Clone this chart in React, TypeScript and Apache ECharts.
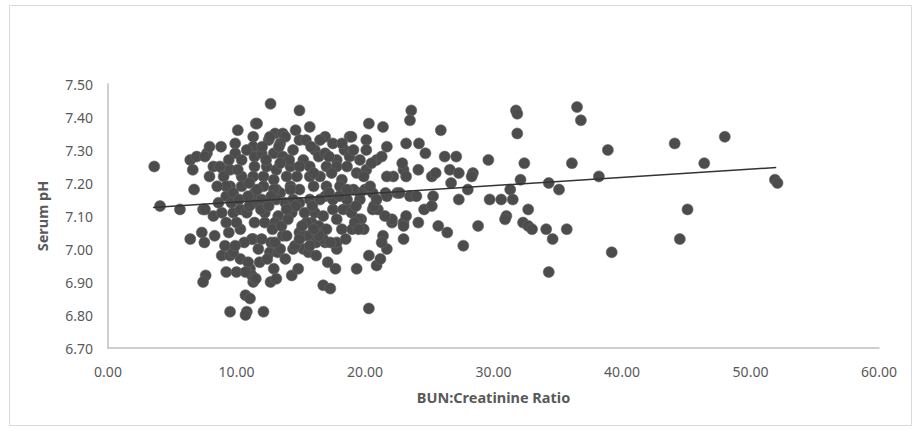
import React, { useEffect, useRef } from "react";
import * as echarts from "echarts";

const bunRatio: number[] = [
  3.6, 4.05, 5.6, 6.7, 6.4, 6.6, 6.9, 7.7, 7.9, 8.8, 9.9, 9.9, 10.1, 10.4, 11.5, 7.4, 8.2, 9.2, 9.5, 8.2, 9.0,
  6.4, 7.3, 7.5, 8.3, 7.6, 7.4, 9.2, 10.0, 10.7, 9.5, 10.8, 10.7, 11.3, 8.85, 9.5, 10.3, 11.05, 9.4, 10.3, 11.3,
  12.1, 12.65, 12.9, 14.3, 14.8, 16.75, 17.3, 17.7, 19.35, 20.3, 20.9, 21.2, 21.7, 21.4, 21.3, 22.1, 20.3, 11.05,
  11.8, 11.2, 11.5, 14.4, 15.2, 15.6, 16.2, 17.1, 17.8, 17.8, 16.9, 13.6, 12.6, 13.2, 15.2, 18.2, 19.0, 19.4, 19.7,
  15.6, 16.2,
  12.65, 14.9, 11.6, 15.7, 20.3, 21.4, 20.1, 21.7, 18.8, 16.9, 13.0, 13.6, 12.5, 14.9, 11.3, 22.2, 23.0, 19.6,
  20.1, 20.9, 20.0, 20.6, 21.6, 22.5, 19.6, 20.6, 21.0, 22.1, 23.0, 18.8, 19.5,
  23.6, 23.5, 25.9, 31.75, 31.85, 31.85, 36.5, 36.8, 23.2, 24.2, 24.7, 26.2, 27.1, 29.6, 32.4, 36.1, 22.9, 23.2,
  24.15, 25.2, 25.5, 26.6, 27.3, 28.4, 28.3, 26.7, 32.1, 34.3, 35.1, 38.2, 28.0, 31.3, 22.7, 23.5, 24.0, 25.3,
  27.3, 29.7, 30.6, 31.5, 24.6, 25.2, 32.7, 31.0, 23.2, 24.15, 25.7, 28.8, 32.3, 32.7, 34.1, 35.7,
  23.0, 23.0, 26.4, 27.65, 30.9, 33.0, 34.6, 34.3,
  38.9, 39.2, 44.1, 44.5, 45.1, 46.4, 48.0, 51.9, 52.1,
  11.3, 12.6, 13.8, 13.4, 15.4, 16.1, 17.5, 18.95, 18.4, 20.1, 7.55, 8.7, 9.5, 10.4, 11.4, 11.96, 12.9, 13.6,
  14.4, 15.2, 15.7, 16.4, 16.9, 17.8, 18.8, 21.3, 20.5, 11.4, 12.35, 13.1, 14.2, 14.9, 17.0, 17.8, 18.6, 19.35,
  7.9, 9.0, 11.3, 12.1, 12.9, 13.9, 14.7, 15.7, 16.5, 17.4, 18.2, 19.9, 21.7, 9.2, 10.4, 12.1, 13.1, 14.2, 14.9,
  16.0, 17.0, 18.05, 19.1, 20.4, 9.75, 11.4, 13.4,
  7.55, 8.85, 9.75, 10.3, 10.8, 11.4, 11.96, 13.1, 13.8, 14.4, 14.3, 13.25, 12.2, 11.4, 12.2, 13.0, 9.2, 10.0,
  9.1, 9.75, 10.9, 10.7, 11.2, 11.96, 12.7, 13.4, 13.9, 14.55, 15.7, 16.75, 17.3, 14.9, 15.85, 16.4, 17.0, 15.45,
  16.1, 16.75, 17.5, 18.3, 18.95, 19.2, 19.9, 19.5, 20.7, 21.55, 14.9, 15.7, 16.9, 17.5, 18.6, 19.6, 20.9, 21.7,
  11.6, 12.9, 14.2, 13.1,
  9.6, 10.2, 10.9, 11.9, 12.5, 12.8, 13.5, 14.0, 14.6, 15.3, 15.9, 16.5, 17.2, 18.0, 18.6, 17.8, 16.4, 15.1,
  13.9, 12.7, 11.0, 10.1, 10.8, 12.3, 13.3, 14.1, 15.8, 17.2, 18.2, 19.1, 9.4, 8.5, 8.6, 10.6, 11.7, 13.0, 14.9,
  16.0, 18.5, 19.3, 12.0, 14.6, 16.5, 13.4, 16.0, 11.0, 9.9, 12.4, 13.8,
];

const serumPh: number[] = [
  7.25, 7.13, 7.12, 7.18, 7.27, 7.24, 7.28, 7.29, 7.31, 7.31, 7.32, 7.29, 7.36, 7.27, 7.38, 7.12, 7.10, 7.16, 7.19, 7.25, 7.24,
  7.03, 7.05, 7.02, 7.04, 6.92, 6.90, 6.93, 6.93, 6.86, 6.81, 6.81, 6.80, 6.90, 6.98, 6.98, 6.97, 6.94, 7.05, 7.06, 7.03,
  6.81, 6.90, 6.94, 6.92, 6.94, 6.89, 6.88, 6.94, 6.94, 6.98, 6.95, 6.97, 7.00, 7.04, 7.02, 7.08, 6.82, 6.85,
  6.96, 6.92, 6.91, 7.00, 7.00, 6.99, 6.98, 6.96, 7.00, 7.02, 7.02, 7.04, 6.99, 6.99, 7.04, 7.06, 7.06, 7.08, 7.09,
  7.04, 7.02,
  7.44, 7.42, 7.38, 7.37, 7.38, 7.37, 7.33, 7.31, 7.34, 7.34, 7.35, 7.35, 7.33, 7.33, 7.34, 7.22, 7.24, 7.27,
  7.24, 7.27, 7.18, 7.17, 7.17, 7.17, 7.17, 7.12, 7.12, 7.09, 7.08, 7.12, 7.09,
  7.42, 7.39, 7.36, 7.42, 7.41, 7.35, 7.43, 7.39, 7.32, 7.32, 7.29, 7.28, 7.28, 7.27, 7.26, 7.26, 7.26, 7.22,
  7.24, 7.22, 7.23, 7.24, 7.23, 7.23, 7.22, 7.20, 7.21, 7.20, 7.18, 7.22, 7.18, 7.18, 7.17, 7.16, 7.16, 7.16,
  7.15, 7.15, 7.15, 7.15, 7.12, 7.13, 7.12, 7.10, 7.10, 7.08, 7.07, 7.07, 7.08, 7.07, 7.06, 7.06,
  7.07, 7.03, 7.05, 7.01, 7.09, 7.06, 7.03, 6.93,
  7.30, 6.99, 7.32, 7.03, 7.12, 7.26, 7.34, 7.21, 7.20,
  7.31, 7.34, 7.34, 7.32, 7.33, 7.30, 7.32, 7.34, 7.30, 7.30, 7.28, 7.25, 7.24, 7.22, 7.28, 7.29, 7.29, 7.28,
  7.30, 7.27, 7.25, 7.28, 7.29, 7.27, 7.28, 7.28, 7.26, 7.25, 7.25, 7.24, 7.25, 7.25, 7.25, 7.25, 7.25, 7.23,
  7.22, 7.22, 7.22, 7.22, 7.21, 7.22, 7.22, 7.22, 7.22, 7.23, 7.21, 7.22, 7.22, 7.19, 7.19, 7.19, 7.18, 7.19, 7.18,
  7.19, 7.19, 7.19, 7.18, 7.19, 7.17, 7.17, 7.17,
  7.12, 7.11, 7.11, 7.12, 7.11, 7.14, 7.15, 7.15, 7.14, 7.15, 7.11, 7.10, 7.11, 7.08, 7.08, 7.08, 7.08, 7.08,
  7.01, 6.99, 6.96, 6.93, 7.03, 7.03, 7.02, 7.00, 7.04, 7.01, 7.01, 7.03, 7.02, 7.05, 7.08, 7.07, 7.06, 7.08,
  7.11, 7.10, 7.12, 7.12, 7.11, 7.08, 7.06, 7.06, 7.13, 7.10, 7.14, 7.15, 7.16, 7.15, 7.15, 7.15, 7.15, 7.16,
  7.18, 7.18, 7.18, 6.91,
  7.14, 7.15, 7.16, 7.12, 7.13, 7.06, 7.07, 7.09, 7.13, 7.11, 7.13, 7.15, 7.17, 7.16, 7.18, 7.09, 7.04, 7.07,
  7.12, 7.16, 7.20, 7.24, 7.30, 7.27, 7.31, 7.27, 7.31, 7.28, 7.32, 7.30, 7.27, 7.19, 7.14, 7.02, 7.00, 7.02, 7.03,
  7.06, 7.03, 7.13, 7.31, 7.36, 7.33, 7.26, 7.23, 7.13, 7.01, 6.97, 6.97,
];

const trendX: number[] = [3.5, 52];
const trendY: number[] = [7.126, 7.247];

const xTicks = { min: 0, max: 60, interval: 10 };
const yTicks = { min: 6.7, max: 7.5, interval: 0.1 };

export default function App() {
  const ref = useRef<HTMLDivElement>(null);
  useEffect(() => {
    document.body.style.margin = "0";
    if (!ref.current) return;
    const chart = echarts.init(ref.current, undefined, { renderer: "svg" });
    const n = Math.min(bunRatio.length, serumPh.length);
    const points: number[][] = [];
    for (let i = 0; i < n; i++) points.push([bunRatio[i], serumPh[i]]);
    const font = "'Noto Sans', 'Open Sans', sans-serif";
    chart.setOption({
      animation: false,
      backgroundColor: "#ffffff",
      textStyle: { fontFamily: font },
      graphic: [
        {
          type: "rect",
          shape: { x: 9.5, y: 5.5, width: 902, height: 420 },
          style: { fill: "none", stroke: "#d9d9d9", lineWidth: 1 },
          silent: true,
        },
      ],
      grid: { left: 108, right: 41, top: 84, bottom: 82 },
      xAxis: {
        type: "value",
        min: xTicks.min,
        max: xTicks.max,
        interval: xTicks.interval,
        name: "BUN:Creatinine Ratio",
        nameLocation: "middle",
        nameGap: 41,
        nameTextStyle: { color: "#595959", fontSize: 14.5, fontWeight: "bold", fontFamily: font },
        axisLine: { show: true, lineStyle: { color: "#bfbfbf", width: 1.5 } },
        axisTick: { show: false },
        splitLine: { show: false },
        axisLabel: {
          color: "#595959",
          fontSize: 14,
          margin: 16,
          formatter: (v: number) => v.toFixed(2),
        },
      },
      yAxis: {
        type: "value",
        min: yTicks.min,
        max: yTicks.max,
        interval: yTicks.interval,
        name: "Serum pH",
        nameLocation: "middle",
        nameGap: 59,
        nameTextStyle: { color: "#595959", fontSize: 14.5, fontWeight: "bold", fontFamily: font },
        axisLine: { show: true, lineStyle: { color: "#bfbfbf", width: 1.5 } },
        axisTick: { show: false },
        splitLine: { show: false },
        axisLabel: {
          color: "#595959",
          fontSize: 14,
          margin: 15,
          formatter: (v: number) => v.toFixed(2),
        },
      },
      series: [
        {
          type: "scatter",
          data: points,
          symbol: "circle",
          symbolSize: 11,
          itemStyle: { color: "#4c4c4c", borderColor: "#666666", borderWidth: 0.6, opacity: 1 },
          silent: true,
          z: 2,
        },
        {
          type: "line",
          data: trendX.map((x, i) => [x, trendY[i]]),
          showSymbol: false,
          symbol: "none",
          lineStyle: { color: "#333333", width: 1.5 },
          silent: true,
          z: 3,
        },
      ],
    });
    return () => chart.dispose();
  }, []);
  return (
    <div
      ref={ref}
      style={{ position: "absolute", left: 0, top: 0, width: 920, height: 430 }}
    />
  );
}
